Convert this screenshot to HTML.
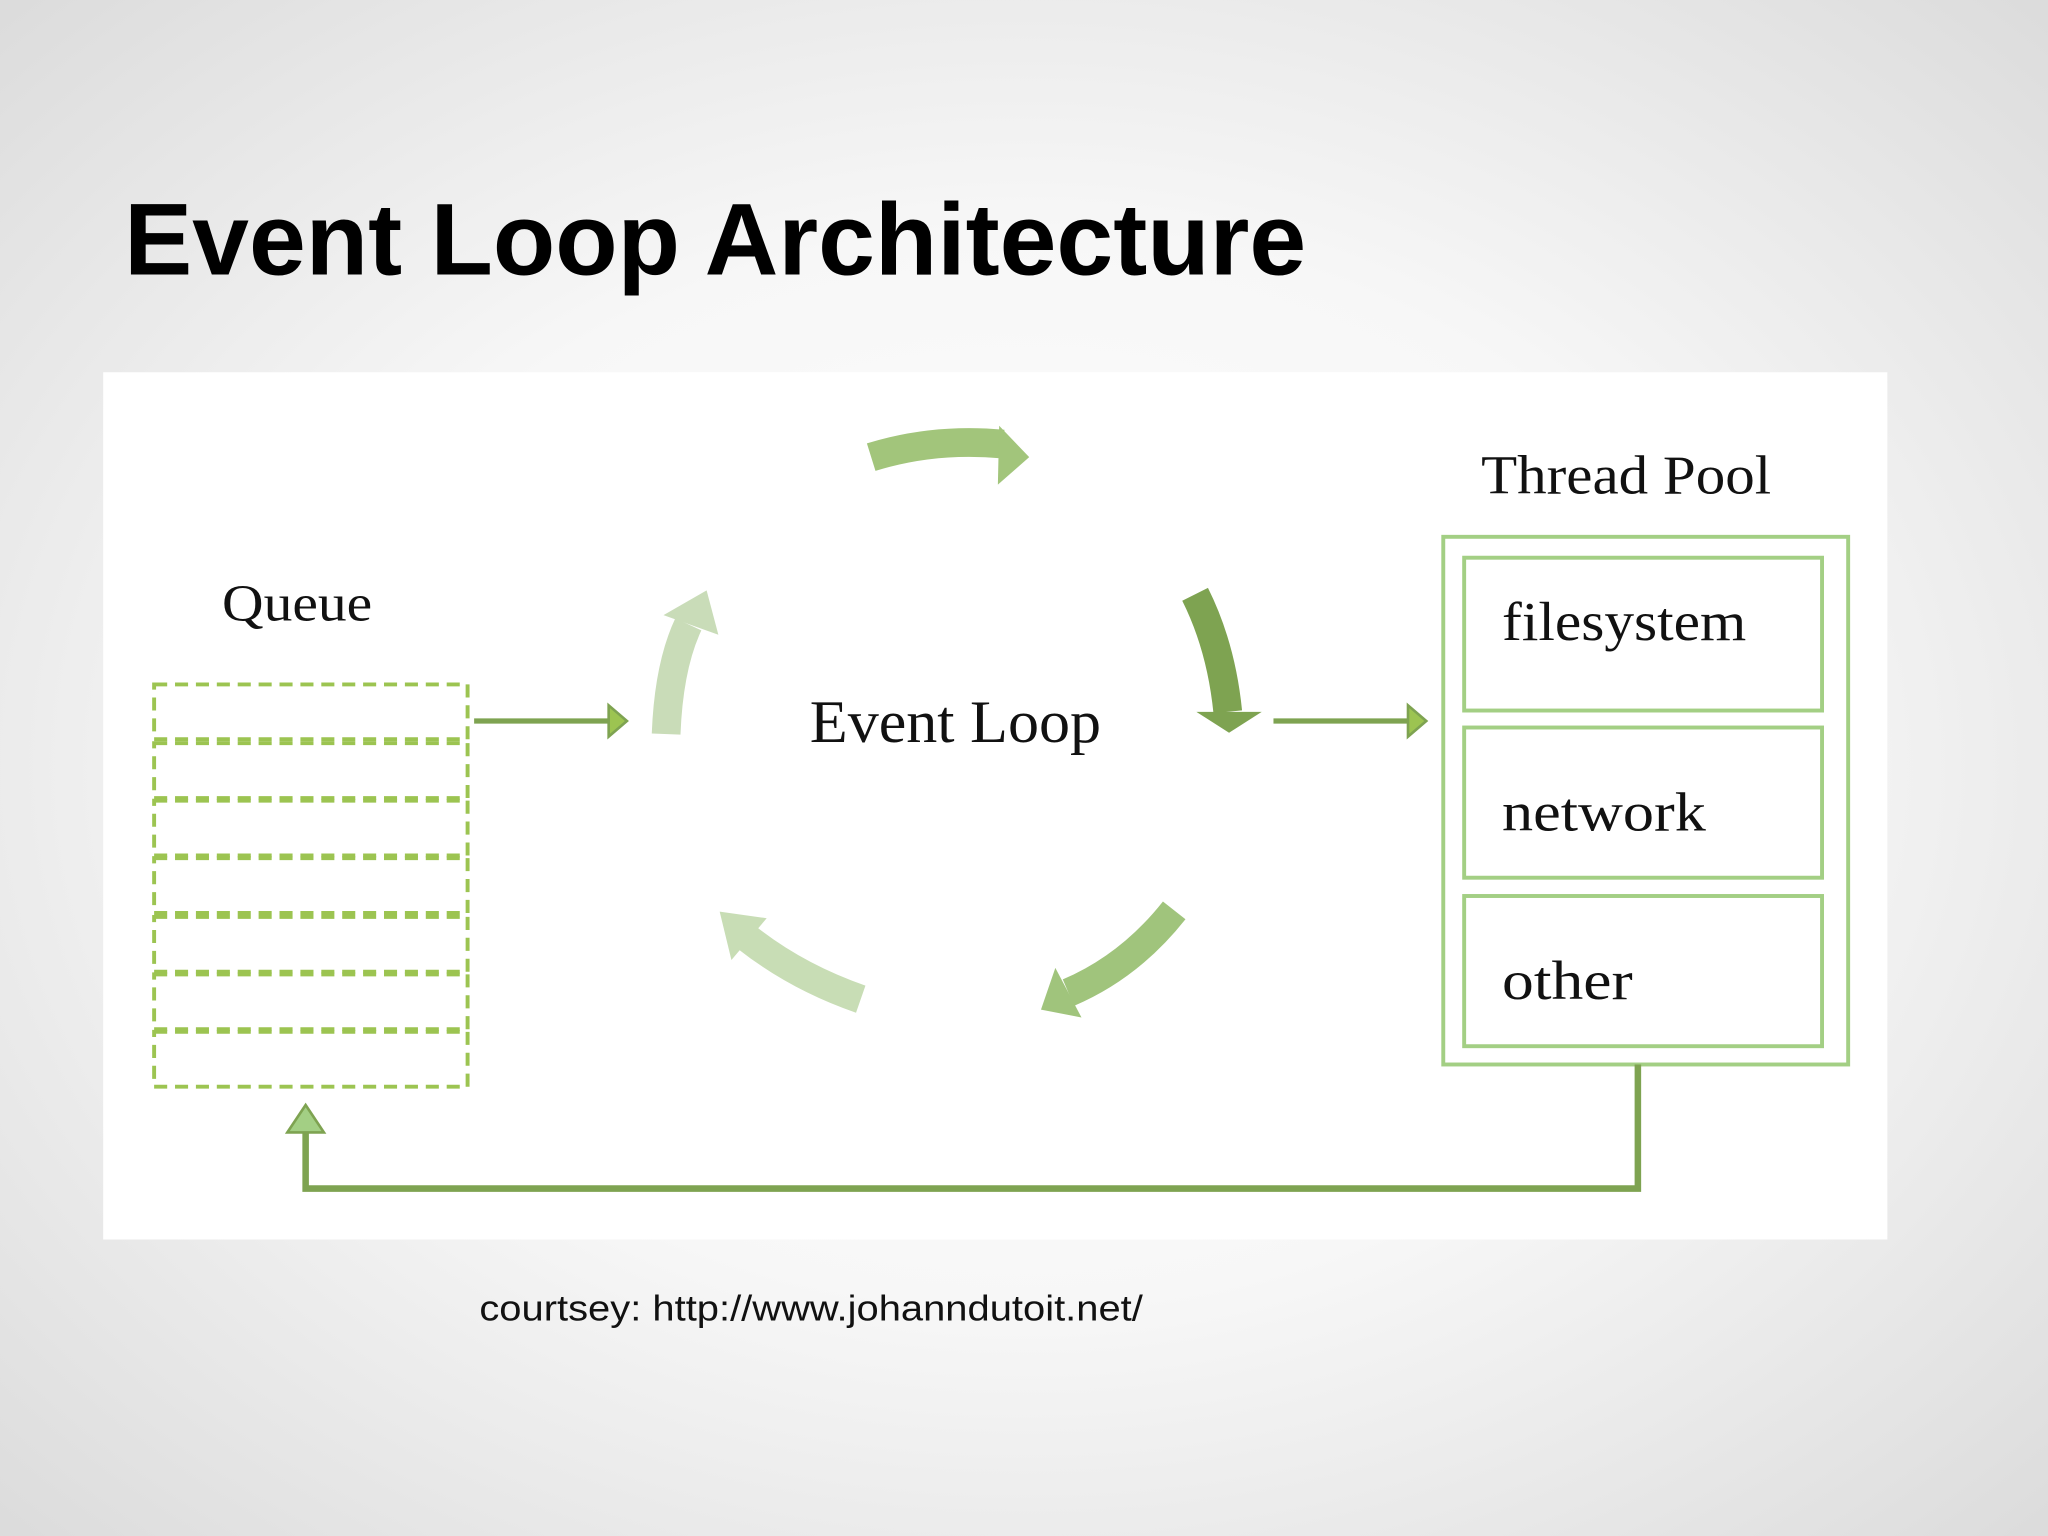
<!DOCTYPE html>
<html><head><meta charset="utf-8"><style>
html,body{margin:0;padding:0;width:2048px;height:1536px;overflow:hidden}
body{background:radial-gradient(ellipse 70% 70% at 50% 50%,#ffffff 0%,#f7f7f7 50%,#dcdcdc 100%)}
svg{position:absolute;left:0;top:0}
</style></head><body>
<svg width="2048" height="1536" viewBox="0 0 1568 1176" xmlns="http://www.w3.org/2000/svg">
<text x="95" y="210" font-family="Liberation Sans, sans-serif" font-weight="bold" font-size="78" fill="#000" textLength="905" lengthAdjust="spacingAndGlyphs">Event Loop Architecture</text>
<rect x="79" y="285" width="1366" height="664" fill="#fff"/>
<g font-family="Liberation Serif, DejaVu Serif, serif" fill="#111" lengthAdjust="spacingAndGlyphs">
<text x="170" y="475" font-size="40" textLength="115" lengthAdjust="spacingAndGlyphs">Queue</text>
<text x="1134" y="378" font-size="42" textLength="222" lengthAdjust="spacingAndGlyphs">Thread Pool</text>
<text x="620" y="568" font-size="46" textLength="223" lengthAdjust="spacingAndGlyphs">Event Loop</text>
<text x="1150" y="490" font-size="42" textLength="187" lengthAdjust="spacingAndGlyphs">filesystem</text>
<text x="1150" y="636" font-size="42" textLength="156" lengthAdjust="spacingAndGlyphs">network</text>
<text x="1150" y="765" font-size="42" textLength="100" lengthAdjust="spacingAndGlyphs">other</text>
</g>
<g fill="none" stroke="#9cc451" stroke-width="3" stroke-dasharray="10,6">
<rect x="118" y="524" width="240" height="42"/>
<rect x="118" y="569" width="240" height="42"/>
<rect x="118" y="613" width="240" height="42"/>
<rect x="118" y="657" width="240" height="42"/>
<rect x="118" y="702" width="240" height="42"/>
<rect x="118" y="746" width="240" height="42"/>
<rect x="118" y="790" width="240" height="42"/>
</g>
<g stroke="#7ea351" stroke-width="4" fill="#9cc451">
<line x1="363" y1="552" x2="466" y2="552"/>
<polygon points="466,540 480,552 466,564" stroke-width="2"/>
<line x1="975" y1="552" x2="1078" y2="552"/>
<polygon points="1078,540 1092,552 1078,564" stroke-width="2"/>
</g>
<g fill="none" stroke="#a3cf84" stroke-width="3">
<rect x="1105" y="411" width="310" height="404"/>
<rect x="1121" y="427" width="274" height="117"/>
<rect x="1121" y="557" width="274" height="115"/>
<rect x="1121" y="686" width="274" height="115"/>
</g>
<polyline points="1254,815 1254,910 234,910 234,866" fill="none" stroke="#7ea351" stroke-width="5"/>
<polygon points="220,867 234,846 248,867" fill="#a3cf84" stroke="#7ea351" stroke-width="2"/>
<path d="M667,350 Q715,335 768,340" fill="none" stroke="#a2c57b" stroke-width="22"/>
<polygon points="765,326 788,350 764,371" fill="#a2c57b"/>
<path d="M915,455 Q935,495 940,545" fill="none" stroke="#7ea351" stroke-width="22"/>
<polygon points="916,545 966,545 941,561" fill="#7ea351"/>
<path d="M899,697 Q865,740 818,760" fill="none" stroke="#a0c47c" stroke-width="22"/>
<polygon points="797,773 828,779 808,741" fill="#a0c47c"/>
<path d="M659,765 Q610,748 572,718" fill="none" stroke="#c8ddb5" stroke-width="22"/>
<polygon points="551,698 587,703 560,735" fill="#c8ddb5"/>
<path d="M510,562 Q512,510 527,478" fill="none" stroke="#c9dcb8" stroke-width="22"/>
<polygon points="541,452 550,486 508,471" fill="#c9dcb8"/>
<text x="367" y="1011" font-family="Liberation Sans, sans-serif" font-size="28" fill="#111" textLength="508" lengthAdjust="spacingAndGlyphs">courtsey: http://www.johanndutoit.net/</text>
</svg>
</body></html>
